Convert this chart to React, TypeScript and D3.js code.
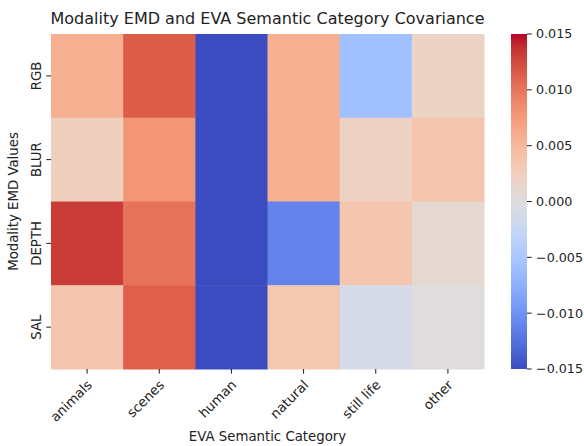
import React from "react";
import * as d3 from "d3";

const width = 584;
const height = 446;
const margin = { top: 34, right: 100, bottom: 77, left: 51 };

const categories = ["animals", "scenes", "human", "natural", "still life", "other"];
const modalities = ["RGB", "BLUR", "DEPTH", "SAL"];

// covariance per modality, one entry per category
const rgbValues = [0.0057, 0.0115, -0.02, 0.0057, -0.0058, 0.0018];
const blurValues = [0.0024, 0.0078, -0.02, 0.0058, 0.0021, 0.0037];
const depthValues = [0.0132, 0.0102, -0.02, -0.0112, 0.0035, 0.0009];
const salValues = [0.0035, 0.0113, -0.02, 0.0034, -0.0009, 0.0001];

const colorTicks = [-0.015, -0.01, -0.005, 0, 0.005, 0.01, 0.015];

// matplotlib coolwarm, 33 samples
const coolwarm = [
  "#3b4cc0", "#445acc", "#4d68d7", "#5775e1", "#6282ea", "#6c8ef1", "#779af7", "#82a5fb",
  "#8db0fe", "#98b9ff", "#a3c2ff", "#aec9fd", "#b8d0f9", "#c2d5f4", "#ccd9ee", "#d5dbe6",
  "#dddddd", "#e5d8d1", "#ecd3c5", "#f1ccb8", "#f5c4ac", "#f7bb9f", "#f7b193", "#f7a686",
  "#f49a7b", "#f18d6f", "#ec7f63", "#e57058", "#de604d", "#d55042", "#cb3e38", "#c0282f",
  "#b40426",
];

const rows = [rgbValues, blurValues, depthValues, salValues];

export default function App() {
  const x = d3
    .scaleBand()
    .domain(categories)
    .range([margin.left, width - margin.right]);
  const y = d3
    .scaleBand()
    .domain(modalities)
    .range([margin.top, height - margin.bottom]);

  const t = d3.scaleLinear().domain([-0.015, 0.015]).range([0, 1]).clamp(true);
  const color = d3
    .scaleLinear<string>()
    .domain(coolwarm.map((_, i) => i / (coolwarm.length - 1)))
    .range(coolwarm)
    .interpolate(d3.interpolateRgb);

  const cbX = 511;
  const cbW = 16;
  const cbY = d3
    .scaleLinear()
    .domain([-0.015, 0.015])
    .range([height - margin.bottom, margin.top]);

  const font = "DejaVu Sans, sans-serif";
  const fs = 13.3;
  const midX = (margin.left + width - margin.right) / 2;
  const midY = (margin.top + height - margin.bottom) / 2;

  return (
    <svg width={width} height={height} style={{ position: "absolute", left: 0, top: 0 }} fontFamily={font}>
      <rect width={width} height={height} fill="#fff" />
      <defs>
        <linearGradient id="cw" x1="0" y1="1" x2="0" y2="0">
          {coolwarm.map((c, i) => (
            <stop key={i} offset={i / (coolwarm.length - 1)} stopColor={c} />
          ))}
        </linearGradient>
      </defs>

      {rows.map((vals, r) =>
        vals.map((v, c) => (
          <rect
            key={`${r}-${c}`}
            x={x(categories[c])}
            y={y(modalities[r])}
            width={x.bandwidth() + 0.5}
            height={y.bandwidth() + 0.5}
            fill={color(t(v))}
          />
        ))
      )}

      {/* x ticks */}
      {categories.map((cat) => {
        const cx = x(cat)! + x.bandwidth() / 2;
        const y0 = height - margin.bottom;
        return (
          <g key={cat}>
            <line x1={cx} x2={cx} y1={y0} y2={y0 + 4.7} stroke="#000" strokeWidth={0.9} />
            <text
              transform={`translate(${cx - 1},${y0 + 10}) rotate(-45)`}
              textAnchor="end"
              dominantBaseline="hanging"
              fontSize={fs}
              fill="#222"
            >
              {cat}
            </text>
          </g>
        );
      })}

      {/* y ticks */}
      {modalities.map((m) => {
        const cy = y(m)! + y.bandwidth() / 2;
        return (
          <g key={m}>
            <line x1={margin.left - 4.7} x2={margin.left} y1={cy} y2={cy} stroke="#000" strokeWidth={0.9} />
            <text
              transform={`translate(${margin.left - 10},${cy}) rotate(-90)`}
              textAnchor="middle"
              fontSize={fs}
              fill="#222"
            >
              {m}
            </text>
          </g>
        );
      })}

      {/* colorbar */}
      <rect x={cbX} y={margin.top} width={cbW} height={height - margin.bottom - margin.top} fill="url(#cw)" />
      {colorTicks.map((v) => (
        <g key={v}>
          <line x1={cbX + cbW} x2={cbX + cbW + 4.7} y1={cbY(v)} y2={cbY(v)} stroke="#000" strokeWidth={0.9} />
          <text x={cbX + cbW + 9} y={cbY(v)} dy="0.35em" fontSize={12.7} fill="#222">
            {v < 0 ? "\u2212" + d3.format(".3f")(-v) : d3.format(".3f")(v)}
          </text>
        </g>
      ))}

      <text x={midX} y={24} textAnchor="middle" fontSize={16} fill="#222">
        Modality EMD and EVA Semantic Category Covariance
      </text>
      <text x={midX} y={441} textAnchor="middle" fontSize={fs} fill="#222">
        EVA Semantic Category
      </text>
      <text
        transform={`translate(18,${midY}) rotate(-90)`}
        textAnchor="middle"
        fontSize={fs}
        fill="#222"
      >
        Modality EMD Values
      </text>
    </svg>
  );
}
